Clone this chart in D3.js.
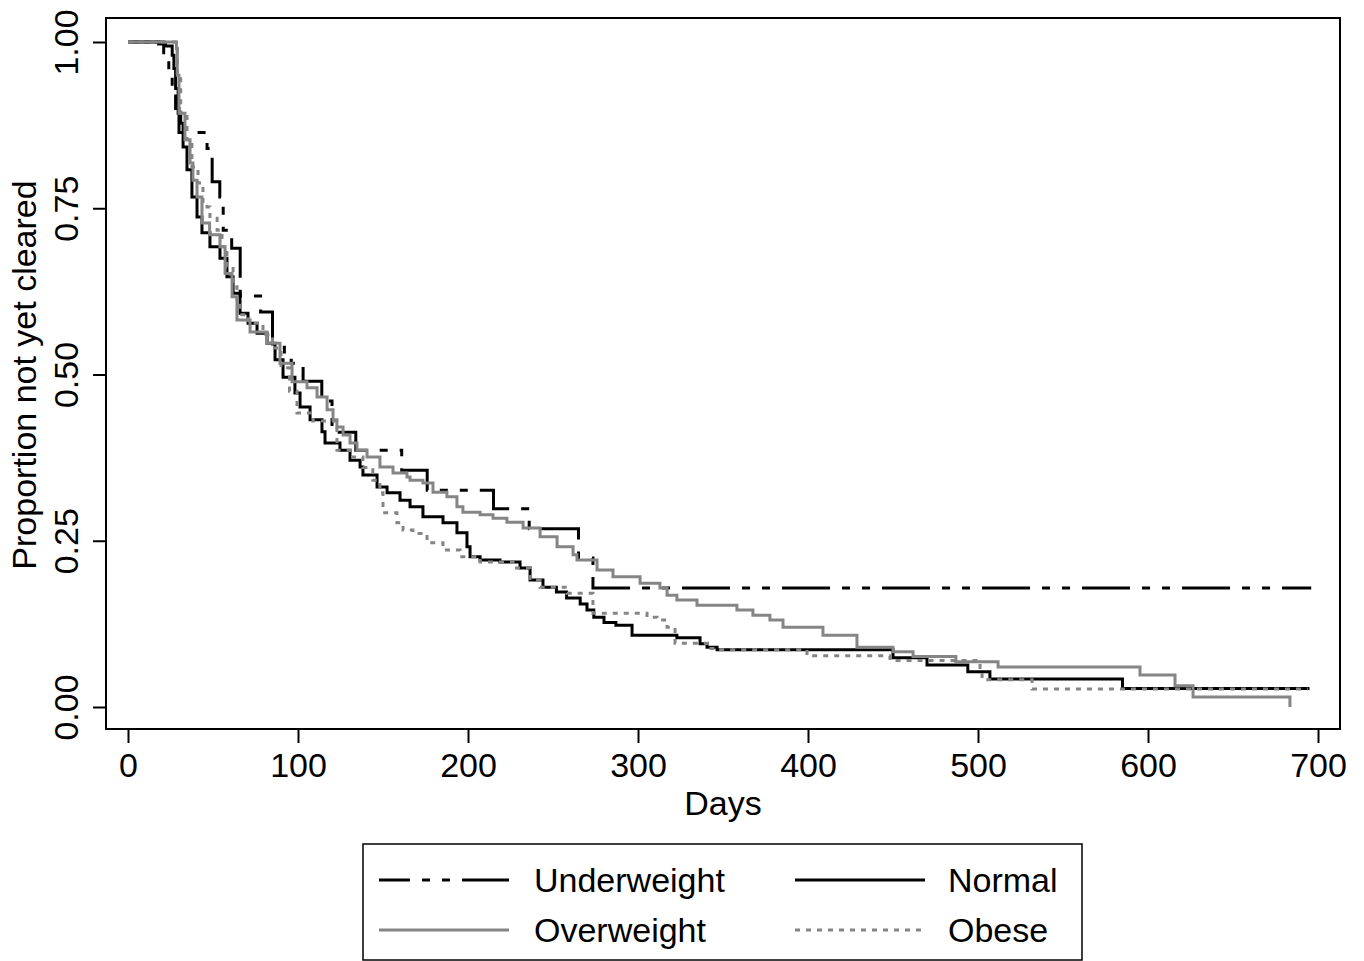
<!DOCTYPE html>
<html>
<head>
<meta charset="utf-8">
<script src="https://cdn.jsdelivr.net/npm/d3@7"></script>
<style>
body { margin: 0; background: #fff; }
text { font-family: "Liberation Sans", Arial, Helvetica, sans-serif; fill: #000; }
</style>
</head>
<body>
<svg id="chart" width="1364" height="961"></svg>
<script>
// kaplan-meier step curves, [day, proportion after step]
var underweight = [[0,1],[21,0.978],[24,0.955],[26,0.93],[28,0.9],[30,0.864],[46.5,0.84],[49.5,0.79],[54,0.767],[56,0.717],[61,0.69],[66,0.618],[78,0.594],[85,0.541],[92,0.53],[96,0.517],[103,0.49],[114,0.46],[120,0.413],[134,0.386],[161,0.356],[176,0.326],[215,0.298],[236,0.268],[265,0.224],[273.5,0.179],[696,0.179]];

var normal = [[0,1],[18,0.997],[22,0.994],[26,0.98],[27,0.96],[28,0.93],[29.5,0.893],[31,0.878],[32.4,0.842],[34.7,0.808],[37.6,0.767],[40.6,0.737],[43.5,0.713],[48.2,0.692],[54.1,0.675],[58.2,0.647],[61.8,0.622],[65.9,0.592],[70.6,0.577],[75.9,0.562],[81.8,0.547],[86.5,0.522],[91.2,0.496],[98.2,0.472],[101.2,0.451],[107.1,0.432],[114.1,0.414],[115.9,0.397],[124.7,0.386],[130.6,0.371],[136.5,0.361],[138.2,0.349],[146.5,0.331],[152.4,0.322],[160,0.311],[165.9,0.301],[173.5,0.286],[185.3,0.277],[193.5,0.262],[199.4,0.241],[201.2,0.226],[207.1,0.221],[218.8,0.218],[230.6,0.209],[236.5,0.191],[244.1,0.18],[252,0.173],[258,0.164],[266,0.155],[270,0.146],[274,0.135],[280,0.127],[287,0.123],[296.5,0.108],[322.9,0.104],[336.5,0.095],[340.6,0.09],[346.5,0.086],[450,0.074],[470,0.063],[494,0.053],[507,0.042],[585,0.028],[695,0.028]];

var overweight = [[0,1],[28.5,0.99],[29,0.95],[30,0.893],[33.5,0.853],[36.5,0.818],[38.2,0.792],[40.6,0.767],[43.5,0.728],[48,0.71],[54.1,0.692],[57.1,0.652],[61.2,0.617],[64.1,0.582],[71.8,0.564],[81.8,0.547],[89.4,0.517],[96.5,0.489],[105.3,0.48],[111.2,0.466],[117.1,0.447],[120.6,0.432],[122.9,0.421],[126.5,0.409],[130.6,0.397],[134.7,0.386],[140.6,0.376],[148.2,0.361],[155.9,0.352],[164.1,0.346],[165.9,0.341],[173.5,0.337],[179.4,0.323],[187.6,0.316],[193.5,0.301],[197,0.293],[207.1,0.289],[214.7,0.284],[222.9,0.278],[232.4,0.269],[242.4,0.256],[252.4,0.241],[261.8,0.229],[264.1,0.221],[275.9,0.206],[285.3,0.196],[301.2,0.186],[312.9,0.179],[317.1,0.168],[322.9,0.161],[334.7,0.153],[358.2,0.146],[367.6,0.138],[377.6,0.131],[385.3,0.12],[408.8,0.108],[428.8,0.09],[450,0.083],[461.8,0.076],[487,0.068],[511.8,0.06],[595.3,0.048],[615.9,0.032],[626.5,0.015],[683.5,0]];

var obese = [[0,1],[28,0.99],[29,0.95],[31,0.893],[34.7,0.853],[37.6,0.812],[41.2,0.788],[44.1,0.758],[46.5,0.752],[48.2,0.735],[52.4,0.717],[55.3,0.692],[58.2,0.662],[61.8,0.632],[64.1,0.607],[66,0.59],[71,0.577],[79.4,0.56],[85,0.54],[90,0.51],[95,0.475],[99.4,0.442],[108.8,0.43],[122.9,0.386],[130.6,0.376],[138.2,0.36],[144,0.341],[148.2,0.322],[150,0.292],[158.2,0.277],[161.8,0.266],[167.6,0.261],[175.9,0.247],[185.3,0.236],[195.3,0.226],[207.1,0.218],[226.5,0.209],[236.5,0.191],[242.4,0.18],[258.2,0.171],[273.5,0.141],[305.3,0.135],[311.2,0.131],[317.1,0.12],[321.8,0.096],[340.6,0.088],[346.5,0.086],[399.4,0.077],[448.2,0.07],[501.2,0.056],[502.4,0.041],[531.8,0.027],[694,0.027]];

var groupNames = ["Underweight", "Normal", "Overweight", "Obese"];
var xTicks = [0, 100, 200, 300, 400, 500, 600, 700];
var yTicks = [0, 0.25, 0.5, 0.75, 1];
var yTickLabels = ["0.00", "0.25", "0.50", "0.75", "1.00"];

var svg = d3.select("#chart");

var frame = {left: 106, right: 1340, top: 18, bottom: 729};

var xScale = d3.scaleLinear()
	.domain([0, 700])
	.range([128, 1318]);
var yScale = d3.scaleLinear()
	.domain([0, 1])
	.range([707, 42]);

var styles = [
	{color: "#000", dash: "48,12,8,12,8,12"},
	{color: "#000", dash: null},
	{color: "#858585", dash: null},
	{color: "#858585", dash: "5,6"}
];
var allSeries = [underweight, normal, overweight, obese];

// frame
svg.append("rect")
	.attr("x", frame.left)
	.attr("y", frame.top)
	.attr("width", frame.right - frame.left)
	.attr("height", frame.bottom - frame.top)
	.attr("fill", "none")
	.attr("stroke", "#000")
	.attr("stroke-width", 2);

// axes
var xAxis = d3.axisBottom(xScale).tickValues(xTicks).tickSize(14).tickPadding(8);
var gx = svg.append("g")
	.attr("transform", "translate(0," + frame.bottom + ")")
	.call(xAxis);
gx.select(".domain").remove();
gx.selectAll("line").attr("stroke-width", 2);
gx.selectAll("text")
	.attr("font-size", 34)
	.attr("dy", null)
	.attr("y", 48);

var yAxis = d3.axisLeft(yScale).tickValues(yTicks).tickSize(13)
	.tickFormat(function(d, i){ return yTickLabels[i]; });
var gy = svg.append("g")
	.attr("transform", "translate(" + frame.left + ",0)")
	.call(yAxis);
gy.select(".domain").remove();
gy.selectAll("line").attr("stroke-width", 2);
gy.selectAll("text")
	.attr("font-size", 34)
	.attr("x", null)
	.attr("dy", null)
	.attr("text-anchor", "middle")
	.attr("transform", "translate(-28,0) rotate(-90)");

// titles
svg.append("text")
	.attr("x", 723)
	.attr("y", 815)
	.attr("text-anchor", "middle")
	.attr("font-size", 34)
	.text("Days");
svg.append("text")
	.attr("transform", "translate(36,375) rotate(-90)")
	.attr("text-anchor", "middle")
	.attr("font-size", 34)
	.text("Proportion not yet cleared");

// curves
var line = d3.line()
	.x(function(d){ return xScale(d[0]); })
	.y(function(d){ return yScale(d[1]); })
	.curve(d3.curveStepAfter);

svg.append("g")
	.selectAll("path")
	.data(allSeries)
	.enter()
	.append("path")
	.attr("d", line)
	.attr("fill", "none")
	.attr("stroke", function(d, i){ return styles[i].color; })
	.attr("stroke-width", 3)
	.attr("stroke-dasharray", function(d, i){ return styles[i].dash; });

// legend
var legend = svg.append("g");
legend.append("rect")
	.attr("x", 363)
	.attr("y", 844)
	.attr("width", 719)
	.attr("height", 116)
	.attr("fill", "none")
	.attr("stroke", "#000")
	.attr("stroke-width", 1.5);

var legendPos = [
	{x: 379, y: 880, tx: 534},
	{x: 795, y: 880, tx: 948},
	{x: 379, y: 930, tx: 534},
	{x: 795, y: 930, tx: 948}
];

legend.selectAll("line")
	.data(groupNames)
	.enter()
	.append("line")
	.attr("x1", function(d, i){ return legendPos[i].x; })
	.attr("x2", function(d, i){ return legendPos[i].x + 130; })
	.attr("y1", function(d, i){ return legendPos[i].y; })
	.attr("y2", function(d, i){ return legendPos[i].y; })
	.attr("stroke", function(d, i){ return styles[i].color; })
	.attr("stroke-width", 3)
	.attr("stroke-dasharray", function(d, i){ return styles[i].dash; })
	.attr("stroke-dashoffset", function(d, i){ return i == 0 ? 17 : 0; });

legend.selectAll("text")
	.data(groupNames)
	.enter()
	.append("text")
	.attr("x", function(d, i){ return legendPos[i].tx; })
	.attr("y", function(d, i){ return legendPos[i].y + 12; })
	.attr("font-size", 34)
	.text(function(d){ return d; });
</script>
</body>
</html>
